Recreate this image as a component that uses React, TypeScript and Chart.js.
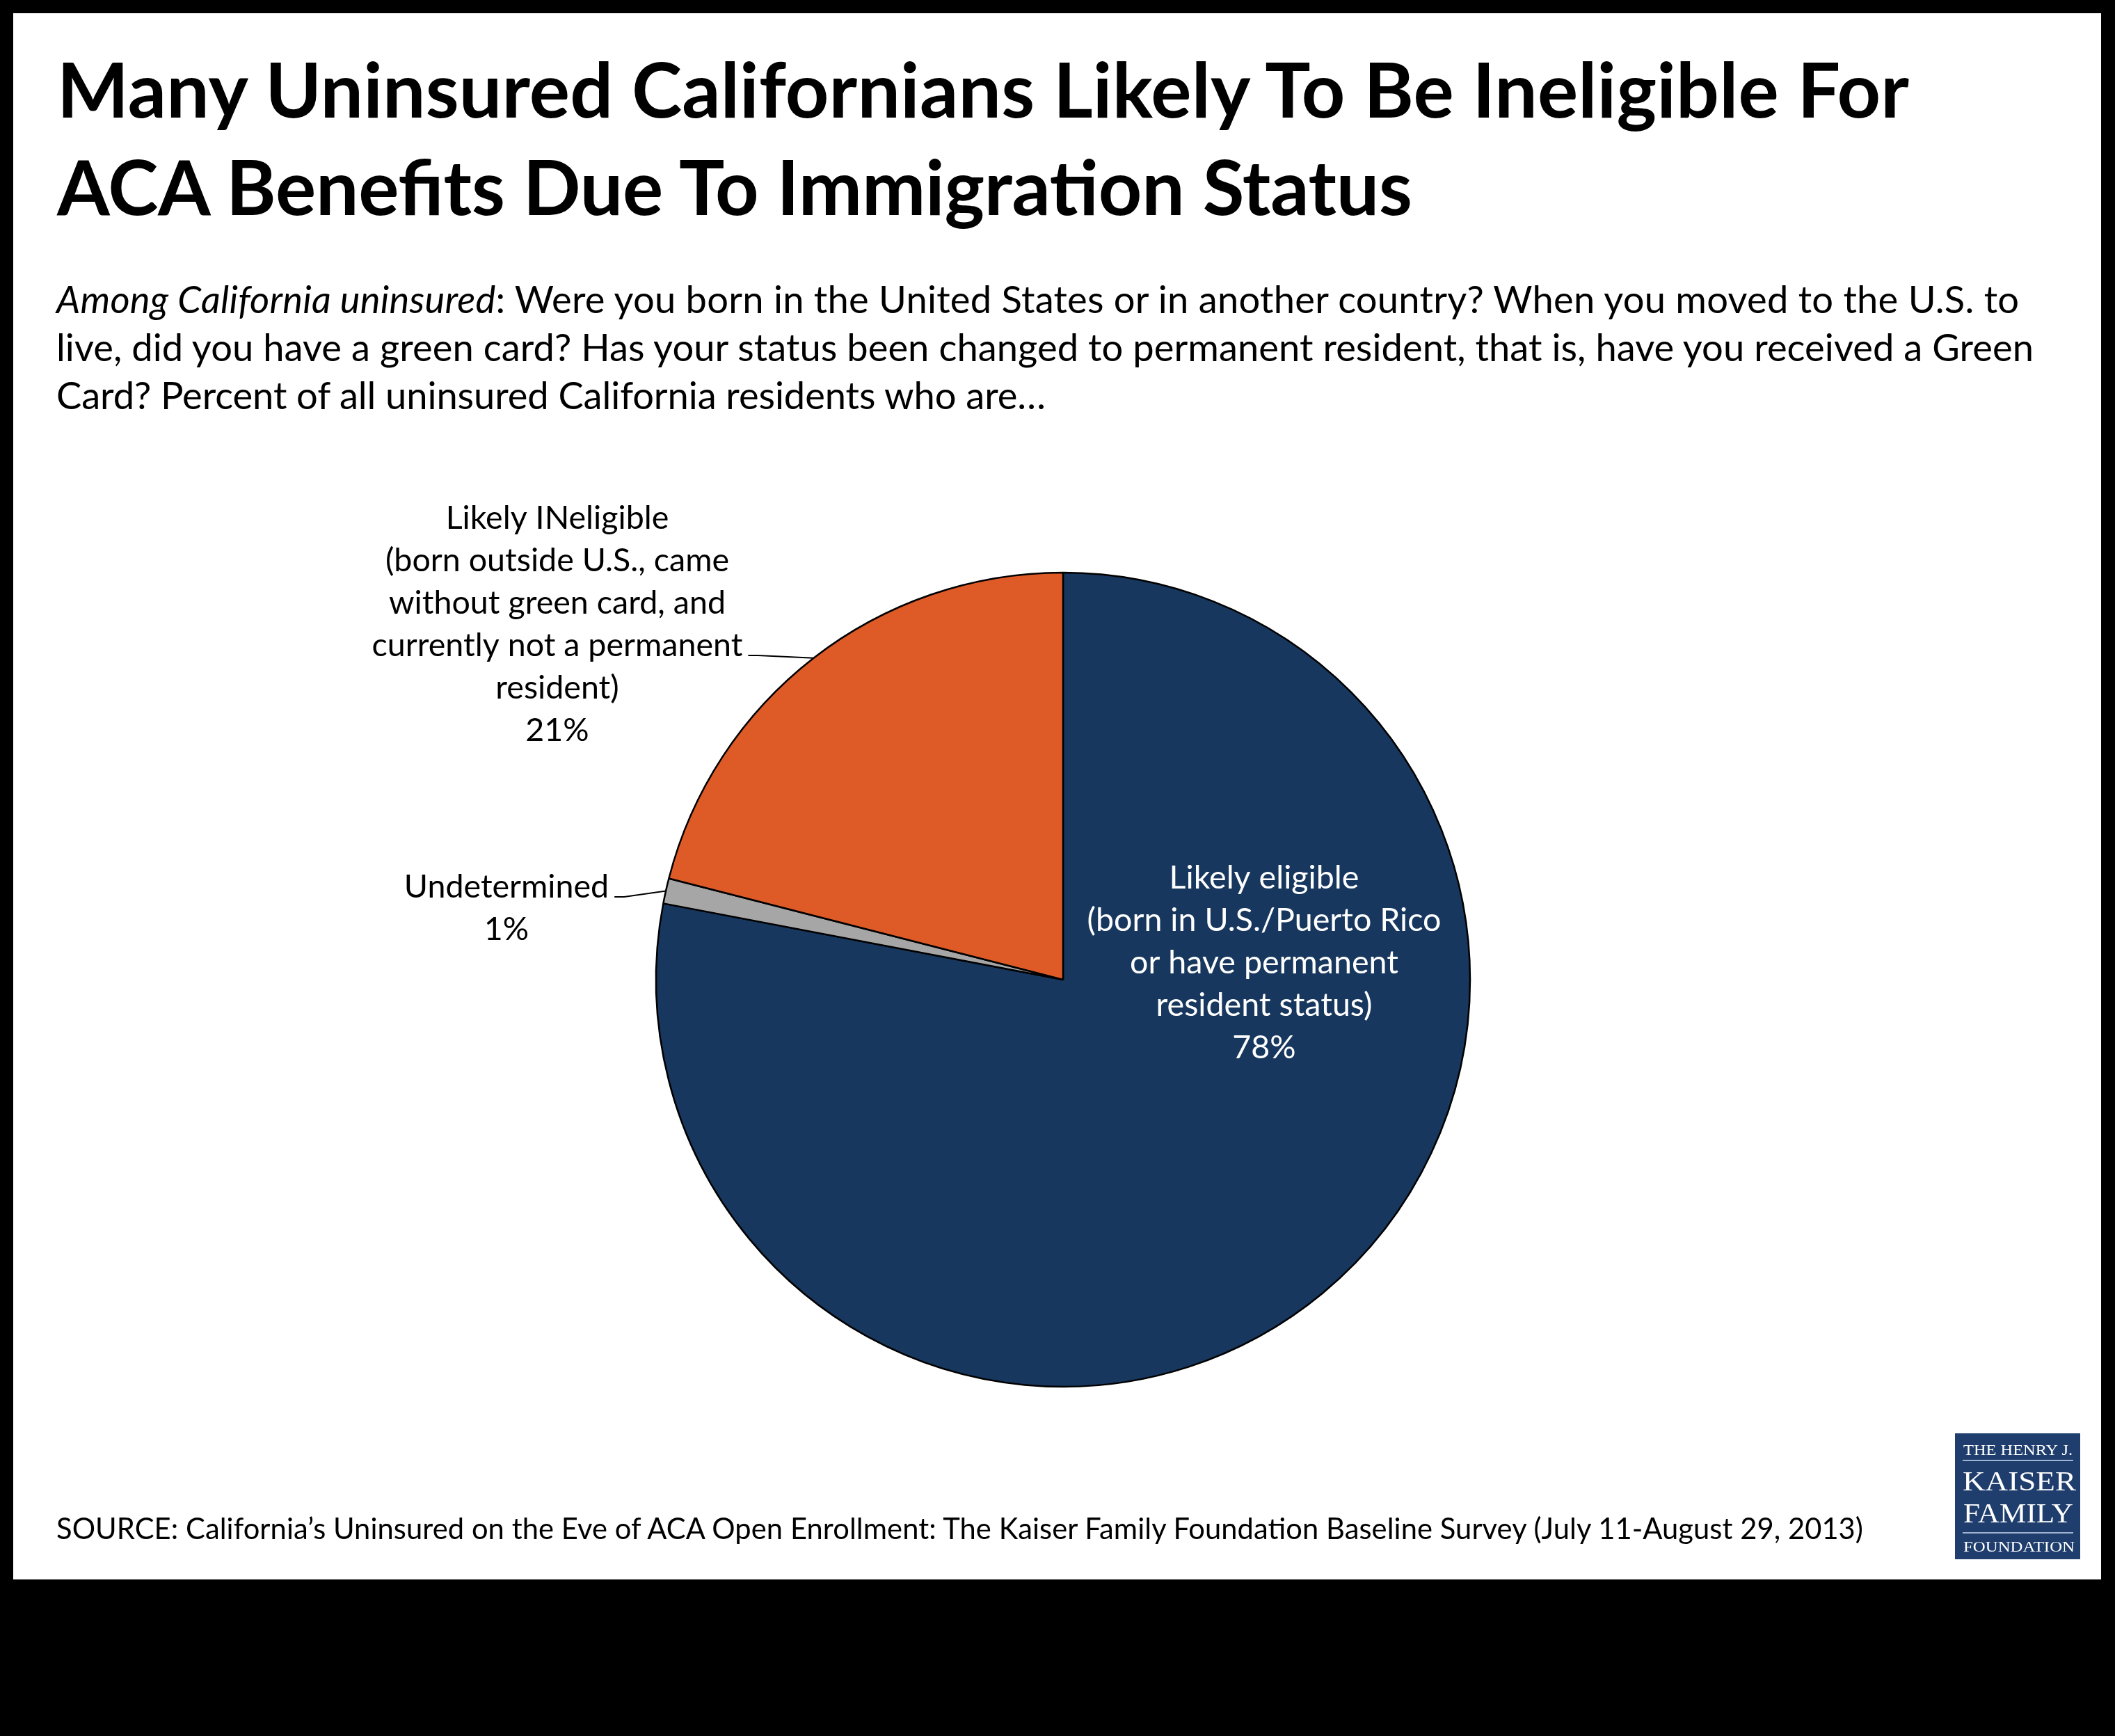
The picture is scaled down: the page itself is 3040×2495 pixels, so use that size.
import React, { useEffect, useRef, useMemo } from 'react';
import { Chart, registerables } from 'chart.js';

Chart.register(...registerables);

// ---------- data ----------
const categories = ['Likely eligible', 'Undetermined', 'Likely INeligible'];
const shares = [78, 1, 21];
const categoryDescriptions = [
  ['(born in U.S./Puerto Rico', 'or have permanent', 'resident status)'],
  [],
  ['(born outside U.S., came', 'without green card, and', 'currently not a permanent', 'resident)'],
];
const sliceColors = ['#17375E', '#A6A6A6', '#DE5B28'];

const titleLines = [
  'Many Uninsured Californians Likely To Be Ineligible For',
  'ACA Benefits Due To Immigration Status',
];
const subtitleItalic = 'Among California uninsured';
const subtitleLines = [
  ': Were you born in the United States or in another country? When you moved to the U.S. to',
  'live, did you have a green card? Has your status been changed to permanent resident, that is, have you received a Green',
  'Card? Percent of all uninsured California residents who are…',
];
const sourceText =
  'SOURCE: California’s Uninsured on the Eve of ACA Open Enrollment: The Kaiser Family Foundation Baseline Survey (July 11-August 29, 2013)';
const logoLines = ['THE HENRY J.', 'KAISER', 'FAMILY', 'FOUNDATION'];

// ---------- layout ----------
const FONT = 'Lato';
const LABEL_LINE = 61;
// label anchor offsets from pie centre (first baseline), leader line index
const labelLayout = [
  { dx: 289, dy: -131, color: '#ffffff', leader: -1 },
  { dx: -800, dy: -118, color: '#000000', leader: 0 },
  { dx: -727, dy: -648, color: '#000000', leader: 3 },
];

let measureCtx: CanvasRenderingContext2D | null = null;
function fitSize(text: string, style: string, weight: number, target: number) {
  if (!measureCtx) measureCtx = document.createElement('canvas').getContext('2d');
  const ctx = measureCtx!;
  ctx.font = `${style} ${weight} 100px ${FONT}`;
  const w = ctx.measureText(text).width;
  return (100 * target) / w;
}

const sliceLabelPlugin = {
  id: 'sliceLabels',
  afterDatasetsDraw(chart: any) {
    const ctx = chart.ctx as CanvasRenderingContext2D;
    const meta = chart.getDatasetMeta(0);
    const size = fitSize('currently not a permanent', 'normal', 400, 533);
    ctx.save();
    ctx.font = `normal 400 ${size}px ${FONT}`;
    ctx.textAlign = 'center';
    ctx.textBaseline = 'alphabetic';
    meta.data.forEach((arc: any, i: number) => {
      const p = arc.getProps(['x', 'y', 'startAngle', 'endAngle', 'outerRadius'], true);
      const lay = labelLayout[i];
      const lines = [categories[i], ...categoryDescriptions[i], `${shares[i]}%`];
      const cx = p.x + lay.dx;
      const by = p.y + lay.dy;
      ctx.fillStyle = lay.color;
      lines.forEach((l, k) => ctx.fillText(l, cx, by + k * LABEL_LINE));
      if (lay.leader >= 0) {
        const w = ctx.measureText(lines[lay.leader]).width;
        const sx = cx + w / 2 + 8;
        const sy = by + lay.leader * LABEL_LINE - 1;
        const mid = (p.startAngle + p.endAngle) / 2;
        const ex = p.x + Math.cos(mid) * p.outerRadius;
        const ey = p.y + Math.sin(mid) * p.outerRadius;
        ctx.beginPath();
        ctx.moveTo(sx, sy);
        ctx.lineTo(sx + 14, sy);
        ctx.lineTo(ex, ey);
        ctx.strokeStyle = '#000';
        ctx.lineWidth = 2;
        ctx.stroke();
      }
    });
    ctx.restore();
  },
};

function PieChart() {
  const ref = useRef<HTMLCanvasElement | null>(null);
  useEffect(() => {
    if (!ref.current) return;
    const chart = new Chart(ref.current, {
      type: 'pie',
      data: {
        labels: categories,
        datasets: [
          {
            data: shares,
            backgroundColor: sliceColors,
            borderColor: '#000000',
            borderWidth: 2.5,
          },
        ],
      },
      options: {
        responsive: false,
        animation: false,
        devicePixelRatio: 1,
        radius: 585,
        layout: { padding: { left: 928, right: 912, top: 808, bottom: 487 } },
        plugins: {
          legend: { display: false },
          tooltip: { enabled: false },
          title: { display: false },
        },
      } as any,
      plugins: [sliceLabelPlugin],
    });
    return () => chart.destroy();
  }, []);
  return (
    <canvas
      ref={ref}
      width={3040}
      height={2495}
      style={{ position: 'absolute', left: 0, top: 0, width: 3040, height: 2495 }}
    />
  );
}

export default function App() {
  const sizes = useMemo(() => {
    return {
      title: fitSize(titleLines[0], 'normal', 700, 2662),
      subtitle: fitSize(subtitleLines[1], 'normal', 400, 2842),
      source: fitSize(sourceText, 'normal', 400, 2597),
    };
  }, []);

  const titleBase = [169, 309];
  const titleWidths = [2662, 1948];
  const subBase = [450, 519, 588];
  const subWidths = [2821, 2842, 1422];

  return (
    <div
      style={{
        position: 'absolute',
        left: 0,
        top: 0,
        width: 3040,
        height: 2495,
        background: '#000',
        overflow: 'hidden',
      }}
    >
      <div
        style={{ position: 'absolute', left: 19, top: 19, width: 3001, height: 2251, background: '#fff' }}
      />
      <PieChart />
      <svg
        width={3040}
        height={2495}
        style={{ position: 'absolute', left: 0, top: 0, pointerEvents: 'none' }}
      >
        {titleLines.map((t, i) => (
          <text
            key={'t' + i}
            x={82}
            y={titleBase[i]}
            fontFamily={FONT}
            fontWeight={700}
            fontSize={sizes.title}
            fill="#000"
            textLength={titleWidths[i]}
            lengthAdjust="spacing"
          >
            {t}
          </text>
        ))}
        {subtitleLines.map((t, i) => (
          <text
            key={'s' + i}
            x={81}
            y={subBase[i]}
            fontFamily={FONT}
            fontWeight={400}
            fontSize={sizes.subtitle}
            fill="#000"
            textLength={subWidths[i]}
            lengthAdjust="spacing"
          >
            {i === 0 ? <tspan fontStyle="italic">{subtitleItalic}</tspan> : null}
            <tspan>{t}</tspan>
          </text>
        ))}
        <text
          x={81}
          y={2212}
          fontFamily={FONT}
          fontWeight={400}
          fontSize={sizes.source}
          fill="#000"
          textLength={2597}
          lengthAdjust="spacing"
        >
          {sourceText}
        </text>
        <g>
          <rect x={2810} y={2060} width={180} height={181} fill="#1F3E6D" />
          <text x={2822} y={2091} fontFamily="Liberation Serif" fontSize={21} fill="#fff" textLength={157} lengthAdjust="spacingAndGlyphs">
            {logoLines[0]}
          </text>
          <line x1={2821} x2={2980} y1={2099} y2={2099} stroke="#9FB3D1" strokeWidth={2} />
          <text x={2821} y={2142} fontFamily="Liberation Serif" fontSize={41} fill="#fff" textLength={163} lengthAdjust="spacingAndGlyphs">
            {logoLines[1]}
          </text>
          <text x={2822} y={2188} fontFamily="Liberation Serif" fontSize={41} fill="#fff" textLength={158} lengthAdjust="spacingAndGlyphs">
            {logoLines[2]}
          </text>
          <line x1={2821} x2={2980} y1={2203} y2={2203} stroke="#9FB3D1" strokeWidth={2} />
          <text x={2822} y={2230} fontFamily="Liberation Serif" fontSize={21} fill="#fff" textLength={160} lengthAdjust="spacingAndGlyphs">
            {logoLines[3]}
          </text>
        </g>
      </svg>
    </div>
  );
}
